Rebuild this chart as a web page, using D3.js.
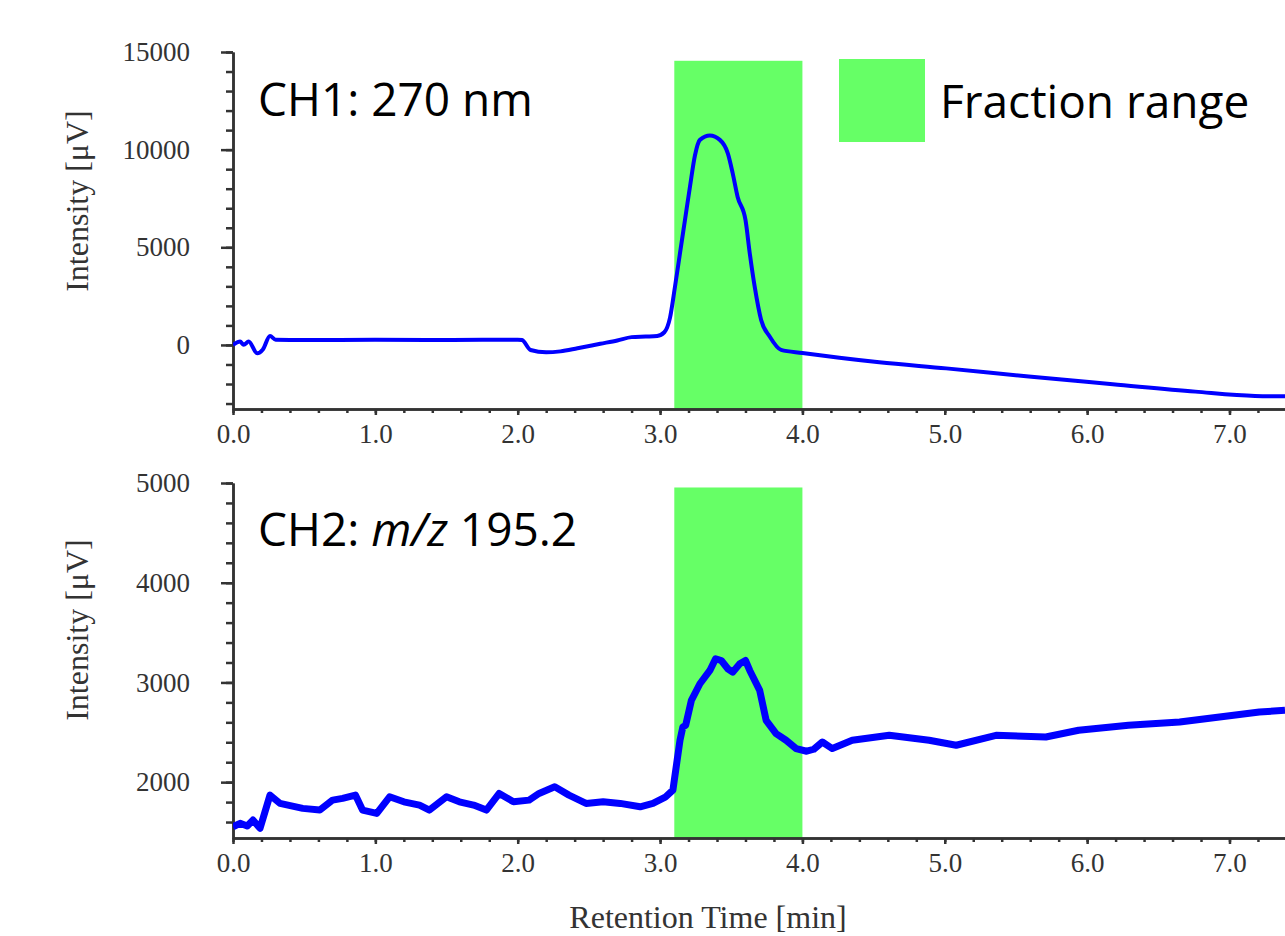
<!DOCTYPE html>
<html>
<head>
  <meta charset="utf-8">
  <style>
    body { margin: 0; background: #fff; }
    .axis path, .axis line { stroke: #333; stroke-width: 2.5px; }
    .axis text { font-family: "Liberation Serif", serif; font-size: 27px; fill: #333; }
    .title { font-family: "Liberation Serif", serif; font-size: 32px; fill: #333; }
    .ch { font-family: "Open Sans", sans-serif; font-size: 46px; fill: #000; }
  </style>
</head>
<body>
  <script src="https://d3js.org/d3.v7.min.js"></script>
  <svg width="1285" height="936"></svg>

  <script>
    // CH1 (270 nm) trace
    var ch1Time = [0, 0.05, 0.075, 0.11, 0.17, 0.21, 0.26, 0.3, 0.5, 1.0, 1.5, 2.0, 2.03, 2.09, 2.2, 2.3, 2.42, 2.58, 2.7, 2.8, 2.9, 2.98,
                   3.03, 3.07, 3.105, 3.14, 3.175, 3.21, 3.245, 3.28, 3.35, 3.42, 3.476, 3.51, 3.545, 3.6, 3.63, 3.665, 3.71, 3.77, 3.85,
                   4.0, 4.26, 4.54, 5.01, 5.59, 6.18, 6.76, 7.18, 7.39];
    var ch1Value = [0, 170, 10, 170, -430, -230, 460, 270, 250, 260, 250, 270, 250, -260, -380, -330, -170, 60, 230, 400, 430, 460,
                    650, 1400, 2990, 4700, 6400, 8100, 9700, 10500, 10720, 10500, 9810, 8800, 7580, 6400, 4700, 2970, 1280, 430, -256,
                    -410, -660, -890, -1200, -1620, -2010, -2390, -2610, -2630];

    // CH2 (m/z 195.2) trace
    var ch2Time = [0, 0.05, 0.1, 0.14, 0.19, 0.26, 0.33, 0.49, 0.61, 0.70, 0.77, 0.86, 0.91, 1.01, 1.10, 1.20, 1.31, 1.38, 1.50, 1.59,
                   1.69, 1.78, 1.87, 1.97, 2.08, 2.15, 2.26, 2.36, 2.48, 2.60, 2.72, 2.86, 2.95, 3.04, 3.09, 3.10, 3.14, 3.16, 3.18,
                   3.22, 3.28, 3.35, 3.39, 3.43, 3.476, 3.51, 3.56, 3.60, 3.63, 3.70, 3.745, 3.815, 3.885, 3.955, 4.03, 4.08, 4.14,
                   4.21, 4.35, 4.61, 4.89, 5.08, 5.36, 5.71, 5.94, 6.29, 6.65, 6.93, 7.21, 7.39];
    var ch2Value = [1553, 1587, 1560, 1620, 1537, 1870, 1787, 1737, 1720, 1820, 1837, 1870, 1720, 1687, 1853, 1803, 1770, 1720, 1853, 1803,
                    1770, 1720, 1887, 1803, 1820, 1887, 1953, 1870, 1787, 1803, 1787, 1753, 1787, 1853, 1920, 2020, 2420, 2553, 2570,
                    2820, 2987, 3120, 3237, 3220, 3137, 3103, 3187, 3220, 3120, 2920, 2620, 2487, 2420, 2337, 2310, 2330, 2403,
                    2337, 2420, 2470, 2420, 2370, 2470, 2453, 2520, 2570, 2603, 2653, 2703, 2720];

    // fraction collection window [start, end] in min
    var fractionRange = [3.1, 4.0];
    var xTicks = [0, 1, 2, 3, 4, 5, 6, 7];
    var ch1Ticks = [0, 5000, 10000, 15000];
    var ch2Ticks = [2000, 3000, 4000, 5000];

    var svg = d3.select("svg");

    var x = d3.scaleLinear().domain([0, 7.39]).range([233, 1285]);

    var panels = [
      {time: ch1Time, value: ch1Value, ticks: ch1Ticks, minorStep: 1000, domain: [-3280, 15000], range: [409, 52],
       rectTop: 14550, width: 4, curve: d3.curveMonotoneX, titleY: 201},
      {time: ch2Time, value: ch2Value, ticks: ch2Ticks, minorStep: 200, domain: [1440, 5000], range: [838, 483],
       rectTop: 4955, width: 7, curve: d3.curveLinear, titleY: 630}
    ];

    svg.append("defs").append("clipPath").attr("id", "clip")
      .append("rect").attr("x", 233).attr("y", 0).attr("width", 1052).attr("height", 936);

    panels.forEach(function(p) {
      var y = d3.scaleLinear().domain(p.domain).range(p.range);
      var data = p.time.map(function(t, i) { return {t: t, v: p.value[i]}; });

      /* green fraction range */
      svg.append("rect")
        .attr("x", x(fractionRange[0]))
        .attr("y", y(p.rectTop))
        .attr("width", x(fractionRange[1]) - x(fractionRange[0]))
        .attr("height", y(p.domain[0]) - y(p.rectTop))
        .attr("fill", "#66ff66");

      /* minor ticks first, then major axes on top */
      var xMinor = d3.range(0, 7.4, 0.2);
      svg.append("g").attr("class", "axis")
        .attr("transform", "translate(0," + p.range[0] + ")")
        .call(d3.axisBottom(x).tickValues(xMinor).tickFormat("").tickSize(4).tickSizeOuter(0));
      svg.append("g").attr("class", "axis")
        .attr("transform", "translate(0," + p.range[0] + ")")
        .call(d3.axisBottom(x).tickValues(xTicks).tickFormat(d3.format(".1f")).tickSize(6).tickSizeOuter(0).tickPadding(9));

      var yMinor = d3.range(Math.ceil(p.domain[0] / p.minorStep) * p.minorStep, p.domain[1] + 1, p.minorStep);
      svg.append("g").attr("class", "axis")
        .attr("transform", "translate(233,0)")
        .call(d3.axisLeft(y).tickValues(yMinor).tickFormat("").tickSize(7).tickSizeOuter(0));
      svg.append("g").attr("class", "axis")
        .attr("transform", "translate(233,0)")
        .call(d3.axisLeft(y).tickValues(p.ticks).tickFormat(d3.format("d")).tickSize(12).tickSizeOuter(0).tickPadding(31));

      svg.append("text").attr("class", "title")
        .attr("transform", "translate(88," + p.titleY + ") rotate(-90)")
        .attr("text-anchor", "middle")
        .text("Intensity [\u03bcV]");

      /* the trace */
      svg.append("path")
        .datum(data)
        .attr("clip-path", "url(#clip)")
        .attr("fill", "none")
        .attr("stroke", "#0000ff")
        .attr("stroke-width", p.width)
        .attr("stroke-linejoin", "round")
        .attr("d", d3.line().curve(p.curve).x(function(d) { return x(d.t); }).y(function(d) { return y(d.v); }));
    });

    svg.append("text").attr("class", "title")
      .attr("x", 708).attr("y", 928).attr("text-anchor", "middle")
      .text("Retention Time [min]");

    // channel labels
    svg.append("text").attr("class", "ch").attr("x", 258).attr("y", 116).text("CH1: 270 nm");
    var ch2 = svg.append("text").attr("class", "ch").attr("x", 258).attr("y", 546);
    ch2.append("tspan").text("CH2: ");
    ch2.append("tspan").attr("font-style", "italic").text("m/z");
    ch2.append("tspan").text(" 195.2");

    // legend
    svg.append("rect").attr("x", 839).attr("y", 59).attr("width", 86).attr("height", 83).attr("fill", "#66ff66");
    svg.append("text").attr("class", "ch").attr("x", 940).attr("y", 118).text("Fraction range");
  </script>
</body>
</html>
